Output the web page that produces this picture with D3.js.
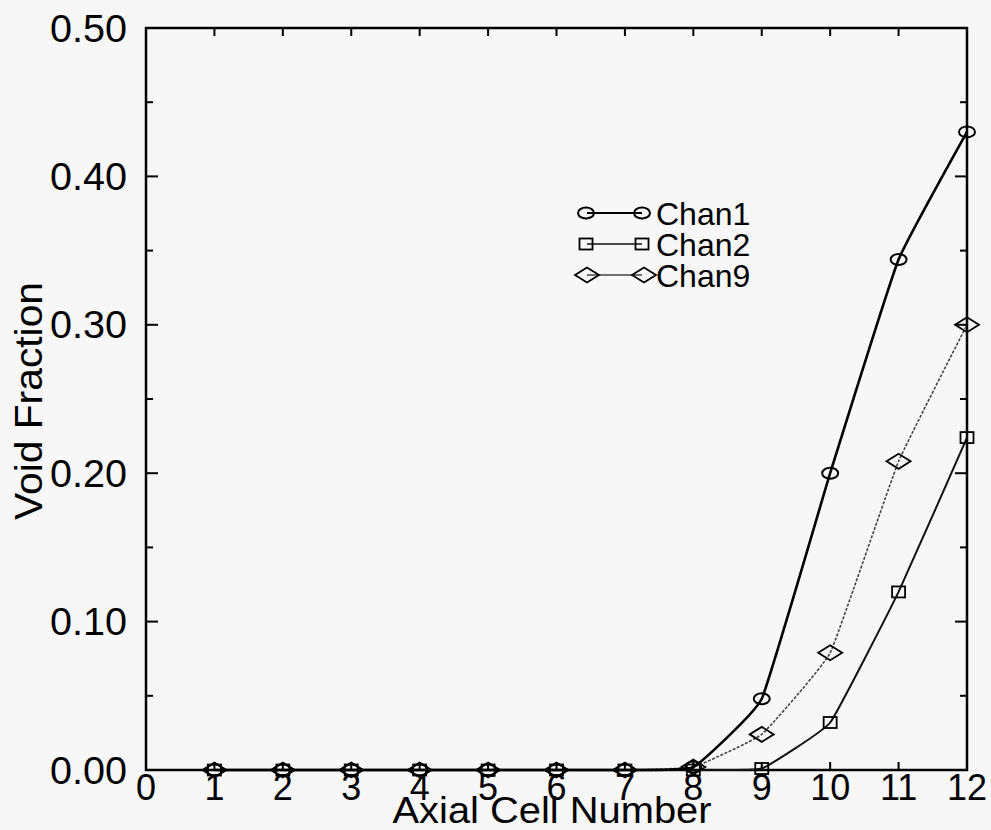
<!DOCTYPE html>
<html>
<head>
<meta charset="utf-8">
<script src="https://cdn.jsdelivr.net/npm/d3@7"></script>
<style>
html,body{margin:0;padding:0;background:#f7f7f7;}
svg{display:block;}
text{font-family:"Liberation Sans",Arial,Helvetica,sans-serif;fill:#000;}
</style>
</head>
<body>
<svg id="chart" width="991" height="830"></svg>
<script>
const cells = [1,2,3,4,5,6,7,8,9,10,11,12];
const chan1 = [0,0,0,0,0,0,0,0.002,0.048,0.200,0.344,0.430];
const chan2 = [0,0,0,0,0,0,0,0,0.001,0.032,0.120,0.224];
const chan9 = [0,0,0,0,0,0,0,0.002,0.024,0.079,0.208,0.300];
const seriesNames = ["Chan1","Chan2","Chan9"];
const xTicks = [0,1,2,3,4,5,6,7,8,9,10,11,12];
const yTicks = [0,0.1,0.2,0.3,0.4,0.5];
const yMinor = [0.05,0.15,0.25,0.35,0.45];

const svg = d3.select("#chart");
const m = {left:146, right:967, top:28, bottom:770};
const x = d3.scaleLinear().domain([0,12]).range([m.left,m.right]);
const y = d3.scaleLinear().domain([0,0.5]).range([m.bottom,m.top]);

// frame
svg.append("rect").attr("x",m.left).attr("y",m.top)
  .attr("width",m.right-m.left).attr("height",m.bottom-m.top)
  .attr("fill","none").attr("stroke","#000").attr("stroke-width",2.5);

// ticks
const tk = svg.append("g").attr("stroke","#000").attr("stroke-width",2);
yTicks.forEach(v=>{
  tk.append("line").attr("x1",m.left).attr("x2",m.left+12).attr("y1",y(v)).attr("y2",y(v));
  tk.append("line").attr("x1",m.right).attr("x2",m.right-12).attr("y1",y(v)).attr("y2",y(v));
});
yMinor.forEach(v=>{
  tk.append("line").attr("x1",m.left).attr("x2",m.left+7).attr("y1",y(v)).attr("y2",y(v));
  tk.append("line").attr("x1",m.right).attr("x2",m.right-7).attr("y1",y(v)).attr("y2",y(v));
});
xTicks.forEach(v=>{
  tk.append("line").attr("x1",x(v)).attr("x2",x(v)).attr("y1",m.top).attr("y2",m.top+8);
  tk.append("line").attr("x1",x(v)).attr("x2",x(v)).attr("y1",m.bottom).attr("y2",m.bottom-8);
});

// tick labels
svg.append("g").selectAll("text").data(yTicks).join("text")
  .attr("x",m.left-19).attr("y",d=>y(d)).attr("dy","0.36em")
  .attr("text-anchor","end").attr("font-size",38)
  .attr("textLength",77).attr("lengthAdjust","spacingAndGlyphs")
  .text(d=>d3.format(".2f")(d));
svg.append("g").selectAll("text").data(xTicks).join("text")
  .attr("x",d=>x(d)).attr("y",m.bottom+30)
  .attr("text-anchor","middle").attr("font-size",36)
  .text(d=>d);

// axis titles
svg.append("text").attr("x",552).attr("y",823).attr("text-anchor","middle")
  .attr("font-size",37).attr("textLength",319).attr("lengthAdjust","spacingAndGlyphs")
  .text("Axial Cell Number");
svg.append("text").attr("transform","translate(42,401) rotate(-90)")
  .attr("text-anchor","middle").attr("font-size",39)
  .attr("textLength",238).attr("lengthAdjust","spacingAndGlyphs")
  .text("Void Fraction");

// series
const styles = {
  Chan1:{data:chan1, width:2.6, color:"#000", dash:null, shape:"circle"},
  Chan2:{data:chan2, width:2.0, color:"#111", dash:null, shape:"square"},
  Chan9:{data:chan9, width:1.6, color:"#444", dash:"3,1.5", shape:"diamond"}
};
function marker(g, shape, cx, cy){
  if(shape==="circle"){
    g.append("ellipse").attr("cx",cx).attr("cy",cy).attr("rx",8).attr("ry",5.5)
      .attr("fill","none").attr("stroke","#000").attr("stroke-width",2);
  } else if(shape==="square"){
    g.append("rect").attr("x",cx-6.5).attr("y",cy-5.5).attr("width",13).attr("height",11)
      .attr("fill","none").attr("stroke","#000").attr("stroke-width",1.8);
  } else {
    g.append("path").attr("d",`M${cx-12},${cy}L${cx},${cy-7.5}L${cx+12},${cy}L${cx},${cy+7.5}Z`)
      .attr("fill","none").attr("stroke","#000").attr("stroke-width",1.8);
  }
}
const line = d3.line().x((d,i)=>x(cells[i])).y(d=>y(d)).curve(d3.curveCardinal.tension(0.7));
["Chan9","Chan2","Chan1"].forEach(name=>{
  const s = styles[name];
  svg.append("path").attr("d",line(s.data)).attr("fill","none")
    .attr("stroke",s.color).attr("stroke-width",s.width)
    .attr("stroke-dasharray",s.dash);
  const g = svg.append("g");
  s.data.forEach((v,i)=>marker(g,s.shape,x(cells[i]),y(v)));
});

// legend
const legY = [213,244,275];
seriesNames.forEach((name,i)=>{
  const s = styles[name];
  const g = svg.append("g");
  g.append("line").attr("x1",587).attr("x2",642).attr("y1",legY[i]).attr("y2",legY[i])
    .attr("stroke",s.color).attr("stroke-width",s.width>2?2:1.6);
  marker(g,s.shape,name==="Chan9"?587:586,legY[i]);
  marker(g,s.shape,name==="Chan9"?644:642,legY[i]);
  g.append("text").attr("x",656).attr("y",legY[i]).attr("dy","0.36em")
    .attr("font-size",32).text(name);
});
</script>
</body>
</html>
